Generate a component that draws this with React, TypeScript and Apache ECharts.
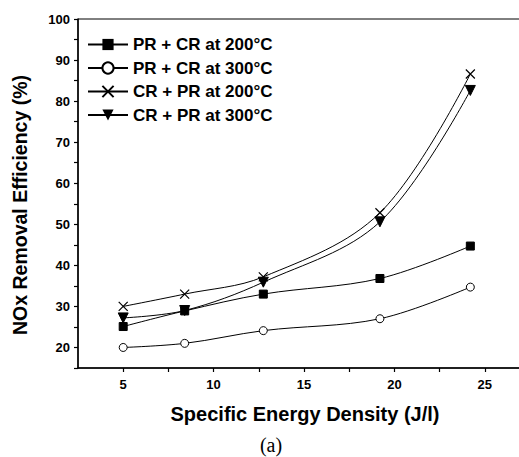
import React, { useEffect, useRef } from "react";
import * as echarts from "echarts";

const energy = [5, 8.4, 12.75, 19.2, 24.2];
const prcr200 = [25.1, 28.9, 33.0, 36.8, 44.7];
const prcr300 = [20.0, 21.0, 24.1, 27.0, 34.7];
const crpr200 = [30.0, 33.0, 37.2, 52.8, 86.6];
const crpr300 = [27.2, 29.0, 35.9, 50.6, 82.6];
const seriesNames = [
  "PR + CR at 200°C",
  "PR + CR at 300°C",
  "CR + PR at 200°C",
  "CR + PR at 300°C",
];
const xTitle = "Specific Energy Density (J/l)";
const yTitle = "NOx Removal Efficiency (%)";
const caption = "(a)";

const FONT = "'Liberation Sans', Arial, sans-serif";

export default function App() {
  const ref = useRef<HTMLDivElement>(null);
  useEffect(() => {
    if (!ref.current) return;
    const chart = echarts.init(ref.current, null, { renderer: "svg" });
    const pairs = (ys: number[]) => energy.map((x, i) => [x, ys[i]]);
    const base = {
      type: "line",
      smooth: 0.35,
      symbolSize: 8,
      lineStyle: { color: "#000", width: 1 },
      z: 3,
    };
    chart.setOption({
      animation: false,
      backgroundColor: "#fff",
      grid: {
        left: 78,
        top: 19,
        width: 452,
        height: 349,
        show: true,
        borderColor: "#000",
        borderWidth: 1,
        backgroundColor: "transparent",
      },
      legend: {
        orient: "vertical",
        left: 82,
        top: 31,
        itemWidth: 40,
        itemHeight: 14,
        itemGap: 6.5,
        textStyle: { fontFamily: FONT, fontWeight: "bold", fontSize: 17, color: "#000" },
        data: seriesNames,
      },
      xAxis: {
        type: "value",
        min: 2.5,
        max: 27.5,
        interval: 2.5,
        axisLine: { lineStyle: { color: "#000", width: 1.5 } },
        axisTick: { show: true, length: 4, lineStyle: { color: "#000", width: 1.2 } },
        axisLabel: {
          fontFamily: FONT,
          fontWeight: "bold",
          fontSize: 13,
          color: "#000",
          margin: 10,
          showMinLabel: false,
          showMaxLabel: false,
          formatter: (v: number) => (v % 5 === 0 ? String(v) : ""),
        },
        splitLine: { show: false },
      },
      yAxis: {
        type: "value",
        min: 15,
        max: 100,
        interval: 5,
        axisLine: { lineStyle: { color: "#000", width: 1.5 } },
        axisTick: { show: true, length: 4, lineStyle: { color: "#000", width: 1.2 } },
        axisLabel: {
          fontFamily: FONT,
          fontWeight: "bold",
          fontSize: 13,
          color: "#000",
          margin: 8,
          formatter: (v: number) => (v % 10 === 0 ? String(v) : ""),
        },
        splitLine: { show: false },
      },
      series: [
        {
          ...base,
          name: seriesNames[0],
          data: pairs(prcr200),
          symbol: "rect",
          itemStyle: { color: "#000", borderColor: "#000" },
        },
        {
          ...base,
          name: seriesNames[1],
          data: pairs(prcr300),
          symbol: "circle",
          itemStyle: { color: "#fff", borderColor: "#000", borderWidth: 1 },
        },
        {
          ...base,
          name: seriesNames[2],
          data: pairs(crpr200),
          symbol: "path://M0,0L10,10M10,0L0,10",
          symbolSize: 9,
          itemStyle: { color: "#000", borderColor: "#000", borderWidth: 1.2 },
        },
        {
          ...base,
          name: seriesNames[3],
          data: pairs(crpr300),
          symbol: "path://M0,0L10,0L5,10Z",
          symbolSize: 10,
          itemStyle: { color: "#000", borderColor: "#000" },
        },
      ],
      graphic: [
        {
          type: "text",
          x: 20,
          y: 205,
          rotation: Math.PI / 2,
          style: {
            text: yTitle,
            align: "center",
            verticalAlign: "middle",
            font: `bold 19.5px ${FONT}`,
            fill: "#000",
          },
        },
        {
          type: "text",
          x: 305,
          y: 414,
          style: {
            text: xTitle,
            align: "center",
            verticalAlign: "middle",
            font: `bold 20px ${FONT}`,
            fill: "#000",
          },
        },
        {
          type: "text",
          x: 271,
          y: 445,
          style: {
            text: caption,
            align: "center",
            verticalAlign: "middle",
            font: "20px 'Liberation Serif', 'Times New Roman', serif",
            fill: "#000",
          },
        },
      ],
    });
    return () => chart.dispose();
  }, []);
  return (
    <div
      style={{
        position: "fixed",
        left: 0,
        top: 0,
        width: 519,
        height: 457,
        overflow: "hidden",
        background: "#fff",
      }}
    >
      <div ref={ref} style={{ width: 540, height: 457 }} />
    </div>
  );
}
